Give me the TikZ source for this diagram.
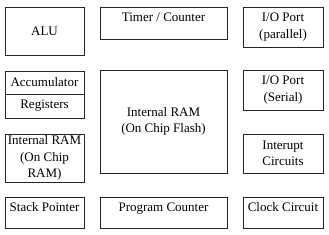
\documentclass[tikz,border=0pt]{standalone}
\usepackage{fontspec}
\setmainfont{Liberation Serif}
\begin{document}
\begin{tikzpicture}[x=1pt,y=-1pt,
  box/.style={draw=black!85, line width=0.9pt, inner sep=0pt, align=center,
    font=\fontsize{13}{16.5}\selectfont},
  txt/.style={inner sep=0pt, font=\fontsize{13}{16.5}\selectfont}]
\useasboundingbox (0,0) rectangle (329,234);
% left column
\node[box, minimum width=79pt, minimum height=48pt] (alu) at (44.5,31) {ALU};
\node[box, minimum width=79pt, minimum height=23pt] (acc) at (44.5,82.5) {Accumulator};
\node[box, minimum width=79pt, minimum height=24pt] (reg) at (44.5,106) {Registers};
\node[box, minimum width=79pt, minimum height=48pt] (iram) at (44.5,158) {Internal RAM\\(On Chip\\RAM)};
\node[box, minimum width=79pt, minimum height=31pt] (sp) at (44.5,212.5) {};
\node[txt, anchor=base] (sptxt) at ([yshift=-14.5pt]sp.north) {Stack Pointer};
% middle column
\node[box, minimum width=127pt, minimum height=32pt] (tim) at (163.5,23) {};
\node[txt, anchor=base] (timtxt) at ([yshift=-14.5pt]tim.north) {Timer / Counter};
\node[box, minimum width=127pt, minimum height=103pt] (flash) at (163.5,121.5) {Internal RAM\\(On Chip Flash)};
\node[box, minimum width=127pt, minimum height=31pt] (pc) at (163.5,212.5) {};
\node[txt, anchor=base] (pctxt) at ([yshift=-14.5pt]pc.north) {Program Counter};
% right column
\node[box, minimum width=80pt, minimum height=40pt] (iop) at (283,27) {I/O Port\\(parallel)};
\node[box, minimum width=80pt, minimum height=40pt] (ios) at (283,90) {I/O Port\\(Serial)};
\node[box, minimum width=80pt, minimum height=39pt] (intr) at (283,153.5) {Interupt\\Circuits};
\node[box, minimum width=80pt, minimum height=31pt] (clk) at (283,212.5) {};
\node[txt, anchor=base] (clktxt) at ([yshift=-14.5pt]clk.north) {Clock Circuit};
\end{tikzpicture}
\end{document}
